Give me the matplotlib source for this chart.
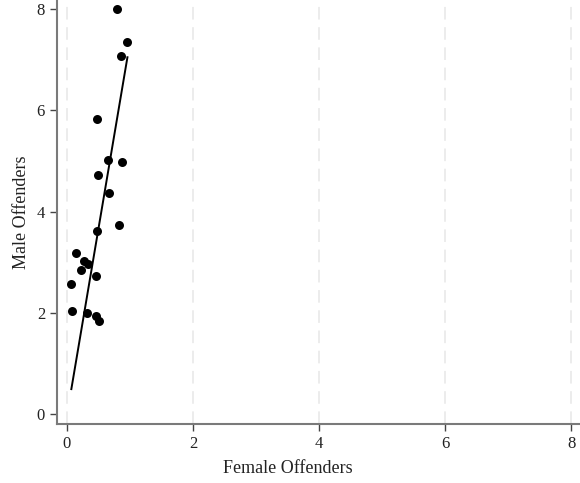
import numpy as np
import matplotlib
matplotlib.use("Agg")
import matplotlib.pyplot as plt

# female vs male offender rates
female = [0.80, 0.95, 0.86, 0.47, 0.65, 0.87, 0.50, 0.66, 0.83, 0.47,
          0.15, 0.27, 0.33, 0.22, 0.46, 0.07, 0.08, 0.32, 0.46, 0.51]
male = [8.00, 7.36, 7.07, 5.83, 5.02, 4.98, 4.73, 4.38, 3.74, 3.62,
        3.18, 3.03, 2.97, 2.85, 2.73, 2.58, 2.04, 2.01, 1.94, 1.84]
# fitted line as drawn in the chart (end points)
fit_x = [0.07, 0.96]
fit_y = [0.50, 7.05]
ticks = [0, 2, 4, 6, 8]

plt.rcParams['font.family'] = ['Liberation Serif', 'DejaVu Serif']

fig = plt.figure(figsize=(5.8, 4.83), dpi=100)
ax = fig.add_axes([0.098, 0.122, 0.902, 0.878])

ax.scatter(female, male, s=42, color='black', zorder=3, linewidths=0)
ax.plot(fit_x, fit_y, color='black', lw=1.4, zorder=2)

ax.set_xlim(-0.16, 8.14)
ax.set_ylim(-0.19, 8.18)
ax.set_xticks(ticks)
ax.set_yticks(ticks)
ax.xaxis.grid(True, color='#ebebeb', linestyle=(0, (7, 4.2)), lw=1.3)
ax.set_axisbelow(True)

for side in ['top', 'right']:
    ax.spines[side].set_visible(False)
for side in ['left', 'bottom']:
    ax.spines[side].set_color('#7a7a7a')
    ax.spines[side].set_linewidth(1.5)
ax.tick_params(labelcolor='#222222', labelsize=12, length=5, width=1,
               color='#444444', direction='out')

ax.set_xlabel('Female Offenders', fontsize=13, color='#222222')
ax.set_ylabel('Male Offenders', fontsize=13, color='#222222')
ax.xaxis.set_label_coords(0.442, -0.085)
ax.yaxis.set_label_coords(-0.052, 0.5)

fig.savefig('out.png', dpi=100)
